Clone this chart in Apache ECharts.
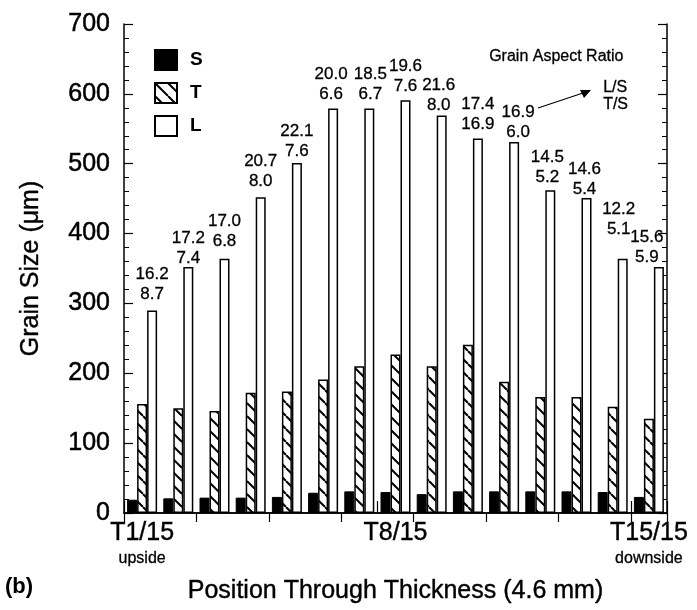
<!DOCTYPE html>
<html>
<head>
<meta charset="utf-8">
<script src="https://cdn.jsdelivr.net/npm/echarts@6/dist/echarts.min.js"></script>
<style>
html,body{margin:0;padding:0;background:#fff;}
#container{width:697px;height:610px;}
</style>
</head>
<body>
<div id="container"></div>
<script>
var positions = ['T1/15','T2/15','T3/15','T4/15','T5/15','T6/15','T7/15','T8/15','T9/15','T10/15','T11/15','T12/15','T13/15','T14/15','T15/15'];
var sideNotes = ['upside','','','','','','','','','','','','','','downside'];
var sSize = [19, 21, 22, 22, 23, 29, 31, 30, 27, 31, 31, 31, 31, 30, 23];
var tSize = [156, 150, 146, 172, 174, 191, 210, 227, 210, 241, 188, 166, 166, 152, 135];
var lSize = [290, 352, 364, 452, 501, 579, 579, 591, 569, 536, 531, 462, 451, 364, 352];
var lsRatio = ['16.2','17.2','17.0','20.7','22.1','20.0','18.5','19.6','21.6','17.4','16.9','14.5','14.6','12.2','15.6'];
var tsRatio = ['8.7','7.4','6.8','8.0','7.6','6.6','6.7','7.6','8.0','16.9','6.0','5.2','5.4','5.1','5.9'];
var yTicks = [0, 100, 200, 300, 400, 500, 600, 700];

// small nudges of the ratio labels, as in the figure
var labelShift = [[0,-2],[0,5],[0,-3],[0,-2],[0,2],[-2,0],[1,0],[0,0],[-3,4],[0,0],[4,4],[-3,1],[-2,5],[-4,-15],[-12,4]];

var FONT = '"Liberation Sans", Arial, sans-serif';
var INK = {textBorderColor: '#000', textBorderWidth: 0.4};

// hatch for the T bars
function hatch() {
	var s = 13;
	var c = document.createElement('canvas');
	c.width = s; c.height = s;
	var ctx = c.getContext('2d');
	ctx.fillStyle = '#fff';
	ctx.fillRect(0, 0, s, s);
	ctx.strokeStyle = '#000';
	ctx.lineWidth = 2;
	for (var k = -s; k <= s; k += s) {
		ctx.beginPath();
		ctx.moveTo(k, 0);
		ctx.lineTo(k + s, s);
		ctx.stroke();
	}
	return c;
}

var dom = document.getElementById('container');
var myChart = echarts.init(dom, null, {renderer: 'canvas'});

var lData = [];
for (var i = 0; i < lSize.length; i++) {
	lData.push({
		value: lSize[i],
		label: {offset: labelShift[i]}
	});
}

var axisLine = {show: true, lineStyle: {color: '#000', width: 1.5}};
var axisTick = {show: true, inside: true, length: 9, lineStyle: {color: '#000', width: 1.2}};
var minorTick = {show: true, splitNumber: 5, length: 5, lineStyle: {color: '#000', width: 1}};

option = {
	animation: false,
	textStyle: {fontFamily: FONT, color: '#000'},
	grid: {left: 124, right: 30, top: 24, bottom: 97},
	legend: {
		orient: 'vertical',
		left: 149,
		top: 44,
		icon: 'rect',
		itemWidth: 22,
		itemHeight: 20,
		itemGap: 11,
		data: ['S', 'T', 'L'],
		textStyle: {fontFamily: FONT, fontSize: 19, fontWeight: 'bold', color: '#000', padding: [0, 0, 0, 8]}
	},
	xAxis: [{
		type: 'category',
		data: positions,
		axisLine: axisLine,
		axisTick: {show: true, inside: true, length: 12, lineStyle: {color: '#000', width: 1.2}},
		axisLabel: {
			interval: function(idx) { return idx === 0 || idx === 7 || idx === 14; },
			margin: 6,
			formatter: function(v, idx) {
				return sideNotes[idx] ? v + '\n{s|' + sideNotes[idx] + '}' : v;
			},
			fontFamily: FONT,
			fontSize: 25,
			color: '#000',
			lineHeight: 28,
			textBorderColor: '#000',
			textBorderWidth: 0.4,
			rich: {s: {fontSize: 16, fontFamily: FONT, color: '#000', lineHeight: 22, padding: [2, 0, 0, 0], textBorderColor: '#000', textBorderWidth: 0.3}}
		},
		name: 'Position Through Thickness (4.6 mm)',
		nameLocation: 'middle',
		nameGap: 66,
		nameTextStyle: {fontFamily: FONT, fontSize: 25, color: '#000', textBorderColor: '#000', textBorderWidth: 0.4}
	}, {
		type: 'category',
		position: 'top',
		data: positions,
		axisLine: axisLine,
		axisTick: axisTick,
		axisLabel: {show: false}
	}],
	yAxis: [{
		type: 'value',
		min: yTicks[0],
		max: yTicks[yTicks.length - 1],
		interval: 100,
		axisLine: axisLine,
		axisTick: axisTick,
		minorTick: minorTick,
		splitLine: {show: false},
		axisLabel: {margin: 14, fontFamily: FONT, fontSize: 25, color: '#000', textBorderColor: '#000', textBorderWidth: 0.5},
		name: 'Grain Size (\u03bcm)',
		nameLocation: 'middle',
		nameGap: 80,
		nameTextStyle: {fontFamily: FONT, fontSize: 25, color: '#000', textBorderColor: '#000', textBorderWidth: 0.4}
	}, {
		type: 'value',
		position: 'right',
		min: yTicks[0],
		max: yTicks[yTicks.length - 1],
		interval: 100,
		axisLine: axisLine,
		axisTick: axisTick,
		minorTick: minorTick,
		splitLine: {show: false},
		axisLabel: {show: false}
	}],
	series: [{
		name: 'S',
		type: 'bar',
		barWidth: 10,
		barGap: '0%',
		data: sSize,
		itemStyle: {color: '#000', borderColor: '#000', borderWidth: 1}
	}, {
		name: 'T',
		type: 'bar',
		barWidth: 10,
		barGap: '0%',
		data: tSize,
		itemStyle: {color: {image: hatch(), repeat: 'repeat'}, borderColor: '#000', borderWidth: 1.5}
	}, {
		name: 'L',
		type: 'bar',
		barWidth: 10,
		barGap: '0%',
		data: lData,
		itemStyle: {color: '#fff', borderColor: '#000', borderWidth: 1.5},
		label: {
			show: true,
			position: 'top',
			distance: 4,
			fontFamily: FONT,
			fontSize: 17,
			lineHeight: 20,
			color: '#000',
			textBorderColor: '#000',
			textBorderWidth: 0.3,
			formatter: function(p) { return lsRatio[p.dataIndex] + '\n' + tsRatio[p.dataIndex]; }
		}
	}],
	graphic: [{
		type: 'text', left: 489, top: 48,
		style: {text: 'Grain Aspect Ratio', font: '16px ' + FONT, fill: '#000', stroke: '#000', lineWidth: 0.3}
	}, {
		type: 'text', left: 603, top: 79,
		style: {text: 'L/S\nT/S', font: '16px ' + FONT, fill: '#000', lineHeight: 17, stroke: '#000', lineWidth: 0.3}
	}, {
		type: 'line',
		shape: {x1: 538, y1: 108, x2: 586, y2: 92},
		style: {stroke: '#000', lineWidth: 1.3}
	}, {
		type: 'polygon',
		shape: {points: [[591, 90], [580, 90], [584, 98]]},
		style: {fill: '#000'}
	}, {
		type: 'text', left: 5, top: 576,
		style: {text: '(b)', font: 'bold 22px ' + FONT, fill: '#000'}
	}]
};

if (option && typeof option === 'object') {
	myChart.setOption(option, true);
}
</script>
</body>
</html>
